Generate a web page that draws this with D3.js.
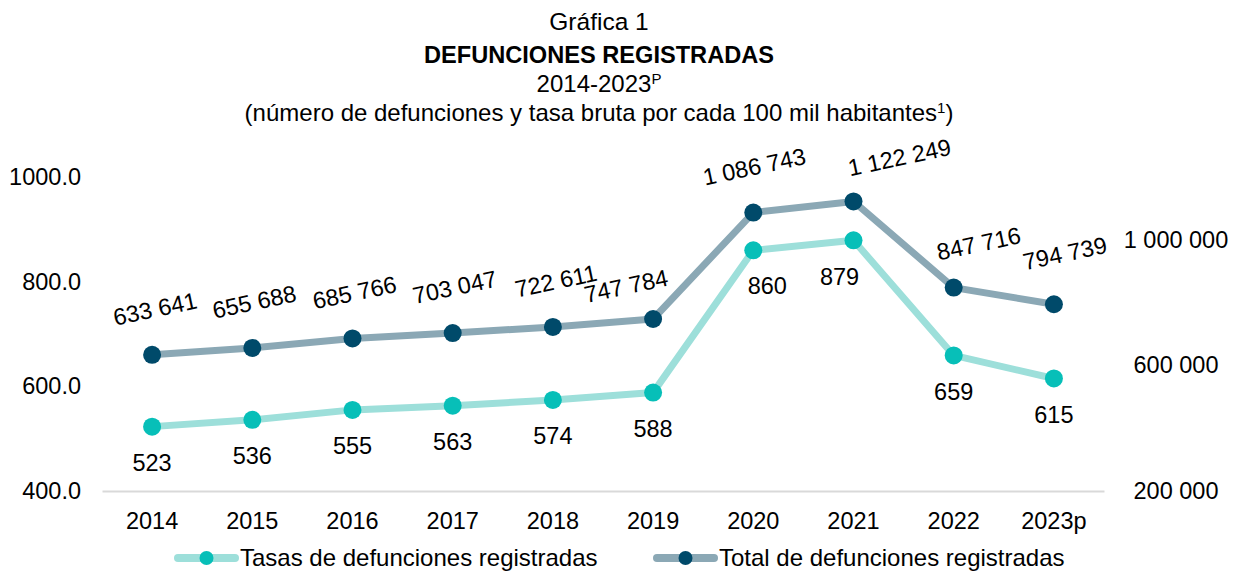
<!DOCTYPE html>
<html>
<head>
<meta charset="utf-8">
<script src="https://cdn.jsdelivr.net/npm/d3@7"></script>
<style>
  body { margin: 0; background: #fff; }
  text { font-family: "Liberation Sans", Arial, sans-serif; fill: #000; }
</style>
</head>
<body>
<div class="canvas"></div>
<script>
// data
const years = ['2014', '2015', '2016', '2017', '2018', '2019', '2020', '2021', '2022', '2023p']
const tasas = [523, 536, 555, 563, 574, 588, 860, 879, 659, 615]
const totales = [633641, 655688, 685766, 703047, 722611, 747784, 1086743, 1122249, 847716, 794739]
const leftTicks = [400, 600, 800, 1000]
const rightTicks = [200000, 600000, 1000000]
const seriesNames = ['Tasas de defunciones registradas', 'Total de defunciones registradas']

const colors = {
  tasaLine: '#9ddfda', tasaDot: '#07bfb8',
  totalLine: '#8ba8b5', totalDot: '#004a6a',
  axis: '#d9d9d9'
}

const W = 1245, H = 571
const svg = d3.select('.canvas')
  .append('svg')
    .attr('width', W)
    .attr('height', H)

const fmt = d3.formatLocale({ decimal: '.', thousands: ' ', grouping: [3], currency: ['', ''] })
const fmtInt = fmt.format(',d')

// title
const title = svg.append('g').attr('transform', 'translate(599,0)')
title.append('text').attr('y', 30).attr('text-anchor', 'middle').attr('font-size', 24.5).text('Gráfica 1')
title.append('text').attr('y', 63).attr('text-anchor', 'middle').attr('font-size', 23.6)
  .attr('font-weight', 'bold').text('DEFUNCIONES REGISTRADAS')
const t3 = title.append('text').attr('y', 92).attr('text-anchor', 'middle').attr('font-size', 24)
t3.append('tspan').text('2014-2023')
t3.append('tspan').attr('font-size', 15).attr('dy', -8).text('P')
const t4 = title.append('text').attr('y', 121).attr('text-anchor', 'middle').attr('font-size', 24)
t4.append('tspan').text('(número de defunciones y tasa bruta por cada 100 mil habitantes')
t4.append('tspan').attr('font-size', 15).attr('dy', -8).text('1')
t4.append('tspan').attr('dy', 8).text(')')

// scales
const x = d3.scaleBand()
  .domain(years)
  .range([102, 1104])
const cx = d => x(d) + x.bandwidth() / 2

const yL = d3.scaleLinear().domain([400, 1000]).range([491, 177])
const yR = d3.scaleLinear().domain([200000, 1200000]).range([491, 177])

// axes
const xAxisGroup = svg.append('g').attr('transform', 'translate(0,491)')
xAxisGroup.call(d3.axisBottom(x).tickSize(0).tickPadding(21))
xAxisGroup.select('.domain').attr('stroke', colors.axis).attr('stroke-width', 2)
xAxisGroup.selectAll('text').attr('font-size', 23.5).attr('font-family', null)

const yAxisGroup = svg.append('g').attr('transform', 'translate(102,0)')
yAxisGroup.call(d3.axisLeft(yL).tickValues(leftTicks).tickSize(0).tickPadding(21).tickFormat(d3.format('.1f')))
yAxisGroup.select('.domain').remove()
yAxisGroup.selectAll('text').attr('font-size', 23.5).attr('font-family', null)

const yAxisRight = svg.append('g').attr('transform', 'translate(1104,0)')
yAxisRight.call(d3.axisRight(yR).tickValues(rightTicks).tickSize(0).tickFormat(fmtInt))
yAxisRight.select('.domain').remove()
yAxisRight.selectAll('text')
  .attr('font-size', 23.5).attr('font-family', null)
  .attr('text-anchor', 'middle').attr('x', 72)

// lines
const tasaLine = d3.line().x((d, i) => cx(years[i])).y(d => yL(d))
const totalLine = d3.line().x((d, i) => cx(years[i])).y(d => yR(d))

svg.append('path').datum(tasas)
  .attr('d', tasaLine).attr('fill', 'none')
  .attr('stroke', colors.tasaLine).attr('stroke-width', 7).attr('stroke-linejoin', 'round')
svg.append('path').datum(totales)
  .attr('d', totalLine).attr('fill', 'none')
  .attr('stroke', colors.totalLine).attr('stroke-width', 7).attr('stroke-linejoin', 'round')

svg.append('g').selectAll('circle')
  .data(tasas)
  .enter().append('circle')
    .attr('cx', (d, i) => cx(years[i]))
    .attr('cy', d => yL(d))
    .attr('r', 9)
    .attr('fill', colors.tasaDot)

svg.append('g').selectAll('circle')
  .data(totales)
  .enter().append('circle')
    .attr('cx', (d, i) => cx(years[i]))
    .attr('cy', d => yR(d))
    .attr('r', 9)
    .attr('fill', colors.totalDot)

// data labels (nudges to keep them off the lines)
const tasaNudge = [0, 0, 0, 0, 0, 0, 14, -14, 0, 0]
svg.append('g').selectAll('text')
  .data(tasas)
  .enter().append('text')
    .attr('x', (d, i) => cx(years[i]) + tasaNudge[i])
    .attr('y', d => yL(d) + 36)
    .attr('dy', '0.35em')
    .attr('text-anchor', 'middle')
    .attr('font-size', 23.5)
    .text(d => d)

const totalNudge = [[3, 0], [2, 0], [2, 0], [2, 0], [3, 0], [-27, 13], [1, 0], [46, 2], [25, 2], [11, -5]]
svg.append('g').selectAll('text')
  .data(totales)
  .enter().append('text')
    .attr('transform', (d, i) =>
      `translate(${cx(years[i]) + totalNudge[i][0]},${yR(d) - 46 + totalNudge[i][1]}) rotate(-12)`)
    .attr('dy', '0.35em')
    .attr('text-anchor', 'middle')
    .attr('font-size', 23.5)
    .text(d => fmtInt(d))

// legend
const legendItems = [
  { name: seriesNames[0], line: colors.tasaLine, dot: colors.tasaDot, x: 178 },
  { name: seriesNames[1], line: colors.totalLine, dot: colors.totalDot, x: 657 }
]
const legend = svg.append('g').attr('transform', 'translate(0,558)')
const li = legend.selectAll('g')
  .data(legendItems)
  .enter().append('g')
    .attr('transform', d => `translate(${d.x},0)`)
li.append('line')
  .attr('x1', 0).attr('x2', 57)
  .attr('stroke', d => d.line).attr('stroke-width', 8).attr('stroke-linecap', 'round')
li.append('circle').attr('cx', 28.5).attr('r', 7).attr('fill', d => d.dot)
li.append('text')
  .attr('x', 62).attr('dy', '0.35em')
  .attr('font-size', 24)
  .text(d => d.name)
</script>
</body>
</html>
